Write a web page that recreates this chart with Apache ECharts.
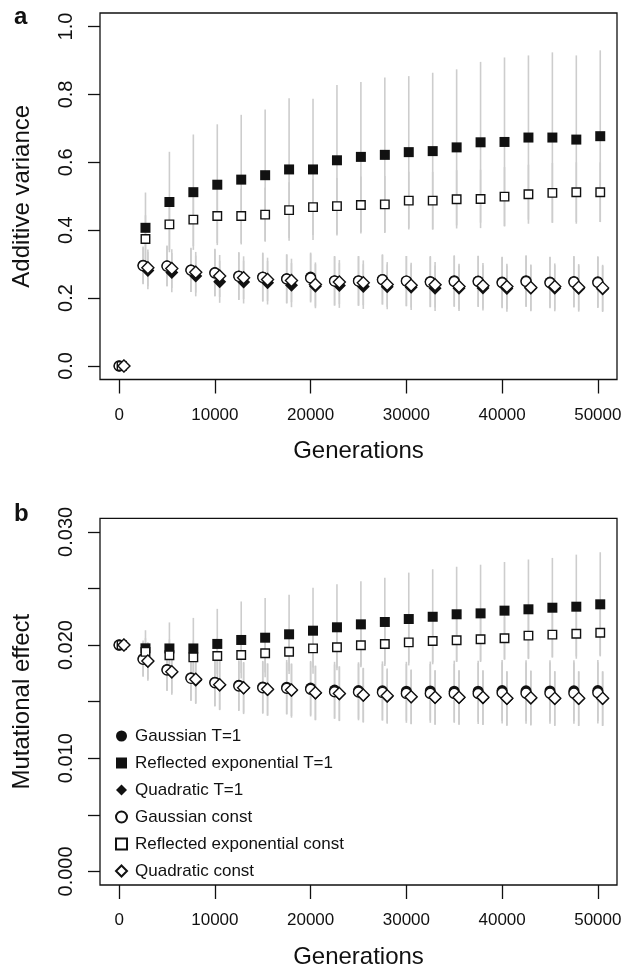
<!DOCTYPE html>
<html><head><meta charset="utf-8">
<script src="https://cdn.jsdelivr.net/npm/echarts@6/dist/echarts.min.js"></script>
<style>html,body{margin:0;padding:0;background:#fff}#c{width:629px;height:971px}</style>
</head><body><div id="c"></div>
<script>
// ---------- data ----------
const generations = [0,2500,5000,7500,10000,12500,15000,17500,20000,22500,25000,27500,30000,32500,35000,37500,40000,42500,45000,47500,50000];
const seriesNames = ['Gaussian T=1','Reflected exponential T=1','Quadratic T=1','Gaussian const','Reflected exponential const','Quadratic const'];
const xTicks = [0,10000,20000,30000,40000,50000];
const yTicksA = [0,0.2,0.4,0.6,0.8,1.0];
const yTicksB = [0,0.005,0.010,0.015,0.020,0.025,0.030];
const yLabelsB = [0,0.010,0.020,0.030];

// panel a: additive variance (means)
const gaussT1A = [0,0.297,0.295,0.283,0.275,0.265,0.262,0.257,0.262,0.251,0.251,0.255,0.250,0.249,0.251,0.250,0.247,0.251,0.247,0.249,0.248];
const refT1A   = [0,0.407,0.483,0.512,0.534,0.549,0.562,0.579,0.579,0.606,0.616,0.622,0.630,0.633,0.644,0.659,0.660,0.673,0.673,0.667,0.677];
const quadT1A  = [0,0.281,0.275,0.265,0.248,0.247,0.245,0.238,0.235,0.237,0.234,0.233,0.232,0.229,0.229,0.230,0.228,0.229,0.229,0.228,0.227];
const gaussCA  = [0,0.295,0.294,0.282,0.274,0.264,0.261,0.256,0.259,0.250,0.250,0.254,0.250,0.247,0.249,0.249,0.245,0.249,0.245,0.247,0.246];
const refCA    = [0,0.374,0.417,0.431,0.442,0.442,0.446,0.459,0.468,0.471,0.474,0.476,0.487,0.487,0.491,0.492,0.499,0.506,0.510,0.512,0.512];
const quadCA   = [0,0.289,0.287,0.276,0.265,0.260,0.255,0.252,0.240,0.247,0.245,0.240,0.238,0.239,0.234,0.236,0.234,0.231,0.234,0.232,0.230];
// panel a: standard deviations
const sdGaussT1A = [0,0.055,0.060,0.065,0.070,0.070,0.072,0.072,0.072,0.073,0.073,0.074,0.074,0.075,0.075,0.075,0.075,0.075,0.075,0.075,0.075];
const sdRefT1A   = [0,0.104,0.148,0.170,0.178,0.191,0.194,0.210,0.208,0.222,0.221,0.228,0.224,0.231,0.230,0.237,0.249,0.242,0.251,0.248,0.253];
const sdQuadT1A  = [0,0.055,0.058,0.060,0.062,0.063,0.064,0.065,0.065,0.066,0.066,0.066,0.067,0.067,0.067,0.067,0.068,0.068,0.068,0.068,0.068];
const sdGaussCA  = [0,0.054,0.059,0.064,0.069,0.070,0.071,0.072,0.072,0.072,0.073,0.073,0.074,0.074,0.075,0.075,0.075,0.075,0.075,0.075,0.075];
const sdRefCA    = [0,0.070,0.075,0.078,0.080,0.080,0.080,0.082,0.082,0.083,0.084,0.084,0.085,0.085,0.086,0.086,0.087,0.087,0.088,0.088,0.088];
const sdQuadCA   = [0,0.054,0.057,0.060,0.062,0.063,0.064,0.064,0.065,0.065,0.066,0.066,0.066,0.067,0.067,0.067,0.067,0.068,0.068,0.068,0.068];

// panel b: mutational effect (means)
const gaussT1B = [0.0200,0.01880,0.01785,0.01712,0.01672,0.01645,0.01630,0.01628,0.01620,0.01602,0.01598,0.01596,0.01592,0.01594,0.01592,0.01592,0.01598,0.01596,0.01595,0.01596,0.01598];
const refT1B   = [0.0200,0.01971,0.01970,0.01970,0.02010,0.02045,0.02065,0.02095,0.02127,0.02157,0.02183,0.02204,0.02230,0.02250,0.02272,0.02280,0.02304,0.02316,0.02330,0.02339,0.02360];
const quadT1B  = [0.0200,0.01855,0.01760,0.01690,0.01645,0.01620,0.01605,0.01598,0.01575,0.01568,0.01555,0.01545,0.01540,0.01535,0.01535,0.01533,0.01526,0.01530,0.01526,0.01525,0.01525];
const gaussCB  = [0.0200,0.01874,0.01780,0.01706,0.01667,0.01638,0.01623,0.01618,0.01609,0.01588,0.01585,0.01582,0.01573,0.01573,0.01573,0.01572,0.01578,0.01575,0.01575,0.01575,0.01578];
const refCB    = [0.0200,0.01940,0.01910,0.01891,0.01903,0.01912,0.01927,0.01941,0.01971,0.01980,0.01998,0.02010,0.02024,0.02036,0.02042,0.02051,0.02060,0.02083,0.02092,0.02100,0.02109];
const quadCB   = [0.0200,0.01859,0.01765,0.01697,0.01650,0.01623,0.01609,0.01603,0.01579,0.01573,0.01559,0.01553,0.01544,0.01538,0.01538,0.01538,0.01529,0.01535,0.01529,0.01529,0.01529];
// panel b: standard deviations
const sdGaussT1B = [0,0.0016,0.0019,0.0020,0.0021,0.0022,0.0023,0.0024,0.0024,0.0025,0.0025,0.0026,0.0026,0.0026,0.0027,0.0027,0.0027,0.0027,0.0027,0.0027,0.0027];
const sdRefT1B   = [0,0.0016,0.0023,0.0027,0.0031,0.0034,0.0035,0.0035,0.0038,0.0038,0.0038,0.0039,0.0041,0.0042,0.0042,0.0043,0.0043,0.0044,0.0044,0.0046,0.0046];
const sdQuadT1B  = [0,0.0017,0.0020,0.0021,0.0022,0.0023,0.0023,0.0024,0.0024,0.0024,0.0024,0.0024,0.0024,0.0024,0.0024,0.0024,0.0024,0.0024,0.0024,0.0024,0.0024];
const sdGaussCB  = [0,0.0015,0.0018,0.0020,0.0021,0.0022,0.0023,0.0023,0.0024,0.0024,0.0025,0.0025,0.0026,0.0026,0.0026,0.0027,0.0027,0.0027,0.0027,0.0027,0.0027];
const sdRefCB    = [0,0.0012,0.0014,0.0015,0.0016,0.0016,0.0017,0.0017,0.0017,0.0018,0.0018,0.0018,0.0018,0.0019,0.0019,0.0019,0.0019,0.0020,0.0020,0.0020,0.0020];
const sdQuadCB   = [0,0.0016,0.0019,0.0021,0.0022,0.0022,0.0023,0.0023,0.0024,0.0024,0.0024,0.0024,0.0024,0.0024,0.0024,0.0024,0.0024,0.0024,0.0024,0.0024,0.0024];

// ---------- build ----------
const FONT = '"Liberation Sans", Arial, Helvetica, sans-serif';
const INK = '#111111';
const DODGE = [0, 250, 500, 0, 250, 500]; // horizontal dodge per series (generations)
const SYMBOLS = [
  {symbol:'circle', size:11, filled:true},
  {symbol:'rect', size:10, filled:true},
  {symbol:'diamond', size:13, filled:true},
  {symbol:'circle', size:10, filled:false},
  {symbol:'rect', size:8.5, filled:false},
  {symbol:'diamond', size:12, filled:false}
];
const panelA = {means:[gaussT1A,refT1A,quadT1A,gaussCA,refCA,quadCA], sds:[sdGaussT1A,sdRefT1A,sdQuadT1A,sdGaussCA,sdRefCA,sdQuadCA]};
const panelB = {means:[gaussT1B,refT1B,quadT1B,gaussCB,refCB,quadCB], sds:[sdGaussT1B,sdRefT1B,sdQuadT1B,sdGaussCB,sdRefCB,sdQuadCB]};

function itemStyleFor(k){
  const s = SYMBOLS[k];
  return s.filled ? {color:INK, borderWidth:0, opacity:1} : {color:'#ffffff', borderColor:INK, borderWidth:1.4, opacity:1};
}

function buildSeries(panel, gi){
  const out = [];
  panel.means.forEach((m, k)=>{
    const sd = panel.sds[k];
    out.push({
      type:'custom', xAxisIndex:gi, yAxisIndex:gi, z:1, silent:true,
      data: generations.map((g,i)=>[g+DODGE[k], m[i]-sd[i], m[i]+sd[i]]),
      encode:{x:0, y:[1,2]},
      renderItem:(params, api)=>{
        const x = api.value(0);
        const lo = api.coord([x, api.value(1)]);
        const hi = api.coord([x, api.value(2)]);
        return {type:'line', shape:{x1:lo[0], y1:lo[1], x2:hi[0], y2:hi[1]}, style:{stroke:'#cdcdcd', lineWidth:1.6}};
      }
    });
  });
  panel.means.forEach((m, k)=>{
    const s = SYMBOLS[k];
    out.push({
      name: seriesNames[k], type:'scatter', xAxisIndex:gi, yAxisIndex:gi,
      z: s.filled ? 3 : 4,
      symbol:s.symbol, symbolSize:s.size,
      itemStyle: itemStyleFor(k),
      emphasis:{disabled:true},
      data: generations.map((g,i)=>[g+DODGE[k], m[i]])
    });
  });
  return out;
}

function xAxisFor(gi){
  return {
    gridIndex:gi, type:'value', min:-2000, max:52000,
    splitLine:{show:false}, axisLine:{show:false, onZero:false},
    axisTick:{show:true, inside:false, length:14, customValues:xTicks, lineStyle:{color:INK, width:1.3}},
    axisLabel:{customValues:xTicks, margin:27, fontSize:17, color:INK, fontFamily:FONT, formatter:v=>String(v)},
    name:'Generations', nameLocation:'middle', nameGap:60,
    nameTextStyle:{fontSize:24, color:INK, fontFamily:FONT}
  };
}

const option = {
  backgroundColor:'#ffffff',
  animation:false,
  grid:[
    {left:100, top:13, width:517, height:366.5, show:true, borderColor:INK, borderWidth:1.3, backgroundColor:'transparent'},
    {left:100, top:518.3, width:517, height:366.7, show:true, borderColor:INK, borderWidth:1.3, backgroundColor:'transparent'}
  ],
  xAxis:[xAxisFor(0), xAxisFor(1)],
  yAxis:[
    {gridIndex:0, type:'value', min:-0.04, max:1.04,
     splitLine:{show:false}, axisLine:{show:false, onZero:false},
     axisTick:{show:true, inside:false, length:12, customValues:yTicksA, lineStyle:{color:INK, width:1.3}},
     axisLabel:{customValues:yTicksA, rotate:90, margin:24, fontSize:20, color:INK, fontFamily:FONT, formatter:v=>v.toFixed(1)},
     name:'Additive variance', nameLocation:'middle', nameGap:66,
     nameTextStyle:{fontSize:24, color:INK, fontFamily:FONT}},
    {gridIndex:1, type:'value', min:-0.0012, max:0.0312,
     splitLine:{show:false}, axisLine:{show:false, onZero:false},
     axisTick:{show:true, inside:false, length:12, customValues:yTicksB, lineStyle:{color:INK, width:1.3}},
     axisLabel:{customValues:yLabelsB, rotate:90, margin:24, fontSize:20, color:INK, fontFamily:FONT, formatter:v=>v.toFixed(3)},
     name:'Mutational effect', nameLocation:'middle', nameGap:66,
     nameTextStyle:{fontSize:24, color:INK, fontFamily:FONT}}
  ],
  legend:{
    orient:'vertical', left:110, top:721, itemWidth:11, itemHeight:11, itemGap:7,
    data:seriesNames, selectedMode:false,
    textStyle:{fontSize:17, color:INK, fontFamily:FONT, lineHeight:20, padding:[0,0,0,3]}
  },
  graphic:[
    {type:'text', left:14, top:5, style:{text:'a', font:'bold 24px "Liberation Sans", Arial, sans-serif', fill:INK}},
    {type:'text', left:14, top:502, style:{text:'b', font:'bold 24px "Liberation Sans", Arial, sans-serif', fill:INK}}
  ],
  series:[...buildSeries(panelA,0), ...buildSeries(panelB,1)]
};

const chart = echarts.init(document.getElementById('c'), null, {renderer:'canvas'});
chart.setOption(option);
</script>
</body></html>
